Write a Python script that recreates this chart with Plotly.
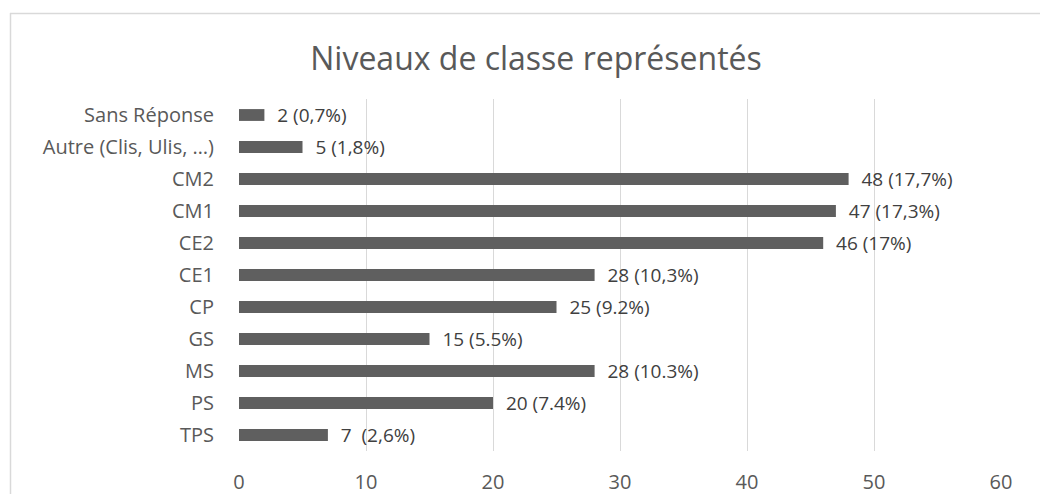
import plotly.graph_objects as go

categories = ["TPS", "PS", "MS", "GS", "CP", "CE1", "CE2", "CM1", "CM2",
              "Autre (Clis, Ulis, …)", "Sans Réponse"]
values = [7, 20, 28, 15, 25, 28, 46, 47, 48, 5, 2]
labels = ["7  (2,6%)", "20 (7.4%)", "28 (10.3%)", "15 (5.5%)", "25 (9.2%)",
          "28 (10,3%)", "46 (17%)", "47 (17,3%)", "48 (17,7%)", "5 (1,8%)",
          "2 (0,7%)"]
x_ticks = [0, 10, 20, 30, 40, 50, 60]
title = "Niveaux de classe représentés"

FONT = "Open Sans"
OFF = 8  # page body margin
W, H = 1048 - OFF, 494 - OFF
L, T = 239 - OFF, 99 - OFF
R = W - (1001 - OFF)
B = H - (451 - OFF)
pw, ph = W - L - R, H - T - B

def px(p):
    return (p - OFF - L) / pw

def py(p):
    return (H - B - (p - OFF)) / ph

fig = go.Figure(go.Bar(
    y=categories, x=values, orientation="h",
    marker=dict(color="#5f5f5f", line=dict(width=0)),
    text=["\u00a0\u00a0" + t.replace("  ", "\u00a0\u00a0") for t in labels],
    textposition="outside", constraintext="none", cliponaxis=False,
    textfont=dict(family=FONT, size=19, color="#404040"),
))

fig.update_layout(
    width=W, height=H,
    margin=dict(l=L, r=R, t=T, b=B, autoexpand=False),
    paper_bgcolor="white", plot_bgcolor="white",
    bargap=0.63, showlegend=False,
    title=dict(text=title, x=(536 - OFF) / W, xanchor="center",
               y=1 - (59 - OFF) / H, yanchor="middle",
               font=dict(family=FONT, size=32, color="#595959")),
    xaxis=dict(range=[0, 60], tickvals=x_ticks, showgrid=True, gridcolor="#d9d9d9",
               gridwidth=1.3, zeroline=False, showline=False,
               ticks="outside", ticklen=13, tickcolor="rgba(0,0,0,0)",
               tickfont=dict(family=FONT, size=20, color="#595959"), fixedrange=True),
    yaxis=dict(range=[-0.5, 10.5], showgrid=False, zeroline=False, showline=False,
               ticks="outside", ticklen=20, tickcolor="rgba(0,0,0,0)",
               tickfont=dict(family=FONT, size=20, color="#595959"), fixedrange=True),
    shapes=[
        dict(type="line", xref="paper", yref="paper", x0=px(10), x1=px(1100),
             y0=py(13.5), y1=py(13.5), line=dict(color="#d9d9d9", width=1.5)),
        dict(type="line", xref="paper", yref="paper", x0=px(10.5), x1=px(10.5),
             y0=py(13), y1=py(520), line=dict(color="#d9d9d9", width=1.5)),
    ],
)

fig.write_html("out.html")
